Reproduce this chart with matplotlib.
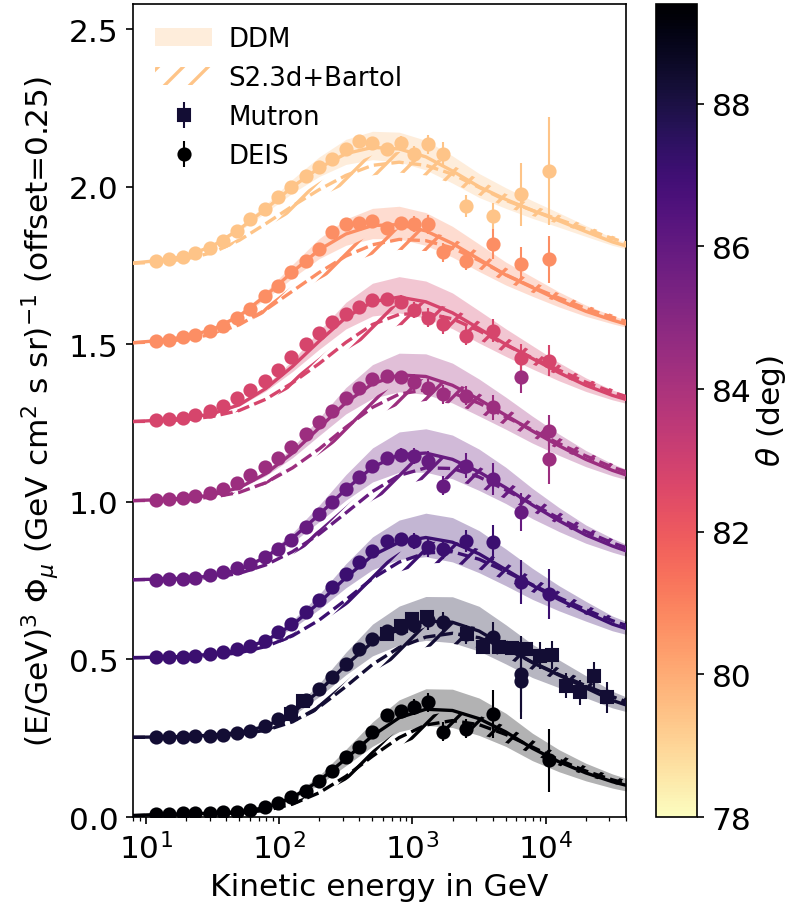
import numpy as np
import matplotlib.pyplot as plt
from matplotlib.patches import Patch
from matplotlib.colors import Normalize
from matplotlib.cm import ScalarMappable

plt.rcParams['hatch.linewidth'] = 1.6
plt.rcParams['font.size'] = 15

# zenith angles of the 8 curves (bottom -> top) and their offsets
angles = [89.4, 88.3, 87.1, 85.9, 84.4, 82.8, 80.7, 79.4]
offsets = [0.0, 0.25, 0.5, 0.75, 1.0, 1.25, 1.5, 1.75]

# model grid, log10(E/GeV)
model_logE = [0.9, 1.1, 1.3, 1.5, 1.7, 1.9, 2.1, 2.3, 2.5, 2.7,
              2.9, 3.1, 3.3, 3.5, 3.7, 3.9, 4.1, 4.3, 4.5, 4.7]

# DDM central prediction (without offset)
ddm_mid = [
    [0.005, 0.008, 0.010, 0.012, 0.016, 0.030, 0.062, 0.115, 0.185, 0.258, 0.315, 0.342, 0.338, 0.312, 0.270, 0.218, 0.175, 0.140, 0.112, 0.090],
    [0.003, 0.004, 0.006, 0.010, 0.018, 0.038, 0.080, 0.150, 0.232, 0.305, 0.350, 0.372, 0.368, 0.340, 0.290, 0.240, 0.200, 0.160, 0.120, 0.092],
    [0.006, 0.007, 0.010, 0.017, 0.030, 0.060, 0.110, 0.180, 0.260, 0.330, 0.372, 0.387, 0.372, 0.335, 0.285, 0.235, 0.190, 0.150, 0.112, 0.085],
    [0.003, 0.005, 0.008, 0.015, 0.035, 0.075, 0.135, 0.210, 0.290, 0.360, 0.400, 0.405, 0.385, 0.345, 0.295, 0.240, 0.190, 0.145, 0.110, 0.080],
    [0.004, 0.007, 0.012, 0.022, 0.045, 0.090, 0.155, 0.235, 0.315, 0.375, 0.403, 0.398, 0.370, 0.325, 0.275, 0.225, 0.178, 0.135, 0.100, 0.072],
    [0.005, 0.009, 0.016, 0.030, 0.058, 0.110, 0.180, 0.260, 0.335, 0.385, 0.400, 0.385, 0.350, 0.300, 0.250, 0.205, 0.160, 0.120, 0.088, 0.063],
    [0.005, 0.012, 0.024, 0.047, 0.090, 0.155, 0.230, 0.300, 0.350, 0.377, 0.380, 0.360, 0.320, 0.270, 0.220, 0.180, 0.140, 0.105, 0.077, 0.052],
    [0.008, 0.016, 0.030, 0.062, 0.115, 0.180, 0.250, 0.310, 0.355, 0.375, 0.370, 0.345, 0.300, 0.250, 0.210, 0.175, 0.142, 0.108, 0.075, 0.050],
]
# relative DDM uncertainty (up / down) and per-curve scale of it
ddm_rel_up = [0.03, 0.04, 0.05, 0.06, 0.08, 0.10, 0.12, 0.14, 0.16, 0.17,
              0.18, 0.19, 0.20, 0.21, 0.22, 0.22, 0.22, 0.22, 0.22, 0.22]
ddm_rel_dn = [0.03, 0.04, 0.05, 0.06, 0.07, 0.08, 0.10, 0.11, 0.12, 0.13,
              0.14, 0.15, 0.16, 0.17, 0.17, 0.18, 0.18, 0.18, 0.18, 0.18]
ddm_unc_scale = [1.0, 1.1, 1.05, 1.0, 0.95, 0.9, 0.85, 0.8]

# Sibyll 2.3d + Bartol central prediction
sib_mid = [
    [0.004, 0.006, 0.008, 0.010, 0.013, 0.021, 0.041, 0.077, 0.129, 0.193, 0.252, 0.292, 0.306, 0.293, 0.262, 0.222, 0.181, 0.146, 0.118, 0.096],
    [0.003, 0.003, 0.005, 0.007, 0.013, 0.025, 0.052, 0.099, 0.164, 0.234, 0.288, 0.321, 0.333, 0.319, 0.284, 0.241, 0.202, 0.167, 0.132, 0.101],
    [0.005, 0.006, 0.008, 0.012, 0.021, 0.041, 0.075, 0.125, 0.189, 0.257, 0.309, 0.338, 0.342, 0.318, 0.279, 0.237, 0.196, 0.158, 0.123, 0.094],
    [0.003, 0.004, 0.006, 0.010, 0.023, 0.050, 0.092, 0.148, 0.215, 0.283, 0.334, 0.358, 0.356, 0.329, 0.288, 0.243, 0.198, 0.156, 0.120, 0.090],
    [0.004, 0.005, 0.009, 0.015, 0.030, 0.061, 0.108, 0.168, 0.237, 0.300, 0.342, 0.356, 0.346, 0.313, 0.270, 0.228, 0.185, 0.146, 0.110, 0.082],
    [0.005, 0.006, 0.011, 0.021, 0.040, 0.076, 0.128, 0.189, 0.256, 0.313, 0.345, 0.349, 0.331, 0.293, 0.248, 0.207, 0.168, 0.130, 0.098, 0.072],
    [0.005, 0.008, 0.016, 0.032, 0.062, 0.110, 0.169, 0.228, 0.280, 0.316, 0.333, 0.329, 0.306, 0.266, 0.221, 0.182, 0.147, 0.114, 0.086, 0.061],
    [0.007, 0.011, 0.021, 0.041, 0.080, 0.133, 0.189, 0.241, 0.286, 0.318, 0.328, 0.318, 0.290, 0.248, 0.207, 0.175, 0.146, 0.116, 0.086, 0.059],
]
sib_rel_half = [0.06, 0.06, 0.06, 0.07, 0.08, 0.09, 0.10, 0.10, 0.10, 0.10,
                0.10, 0.10, 0.10, 0.10, 0.10, 0.10, 0.10, 0.10, 0.10, 0.10]

# DEIS data, low energy part (same bins for all curves)
deis_E = [12, 15, 19, 23.5, 30, 38, 48, 60, 78, 98, 123, 158, 200, 250,
          316, 400, 500, 646, 813, 1023, 1318]
deis_err = [0.002, 0.002, 0.002, 0.002, 0.002, 0.002, 0.002, 0.002, 0.003, 0.004, 0.005,
            0.006, 0.007, 0.008, 0.010, 0.012, 0.014, 0.017, 0.020, 0.025, 0.030]
deis_y = [
    [0.010, 0.010, 0.012, 0.012, 0.013, 0.015, 0.017, 0.022, 0.031, 0.044, 0.062, 0.083, 0.115, 0.147, 0.191, 0.221, 0.269, 0.324, 0.337, 0.348, 0.364],
    [0.004, 0.004, 0.005, 0.006, 0.008, 0.011, 0.016, 0.024, 0.038, 0.060, 0.085, 0.120, 0.156, 0.193, 0.235, 0.283, 0.315, 0.340, 0.350, 0.360, 0.375],
    [0.007, 0.007, 0.008, 0.012, 0.017, 0.023, 0.033, 0.043, 0.059, 0.086, 0.112, 0.150, 0.190, 0.230, 0.270, 0.310, 0.345, 0.377, 0.382, 0.377, 0.356],
    [0.003, 0.005, 0.005, 0.010, 0.018, 0.027, 0.039, 0.053, 0.075, 0.100, 0.130, 0.170, 0.210, 0.250, 0.290, 0.330, 0.365, 0.390, 0.400, 0.395, 0.380],
    [0.006, 0.008, 0.012, 0.018, 0.028, 0.042, 0.060, 0.085, 0.110, 0.140, 0.175, 0.215, 0.255, 0.290, 0.330, 0.360, 0.390, 0.400, 0.395, 0.380, 0.360],
    [0.009, 0.012, 0.017, 0.025, 0.037, 0.055, 0.080, 0.105, 0.135, 0.170, 0.210, 0.250, 0.285, 0.320, 0.345, 0.370, 0.390, 0.395, 0.385, 0.360, 0.335],
    [0.011, 0.013, 0.022, 0.029, 0.043, 0.059, 0.085, 0.112, 0.154, 0.186, 0.228, 0.265, 0.302, 0.355, 0.381, 0.386, 0.391, 0.370, 0.384, 0.381, 0.381],
    [0.015, 0.020, 0.028, 0.039, 0.057, 0.078, 0.110, 0.147, 0.179, 0.216, 0.248, 0.285, 0.312, 0.338, 0.369, 0.396, 0.390, 0.370, 0.390, 0.353, 0.385],
]
# DEIS data, high energy part (per curve)
deis_hi_E = [
    [1700, 2500, 4000, 10500],
    [1700, 2500, 4000, 6500, 6500],
    [1700, 2500, 4000, 6500, 10500],
    [1700, 2500, 4000, 6500],
    [1700, 2500, 4000, 6500, 10500, 10500],
    [1700, 2500, 4000, 6500, 10500],
    [1700, 2500, 4000, 6500, 10500],
    [1700, 2500, 4000, 6500, 10500],
]
deis_hi_y = [
    [0.270, 0.280, 0.327, 0.180],
    [0.370, 0.330, 0.320, 0.204, 0.182],
    [0.350, 0.377, 0.372, 0.245, 0.207],
    [0.301, 0.365, 0.322, 0.217],
    [0.342, 0.337, 0.300, 0.395, 0.226, 0.136],
    [0.314, 0.277, 0.293, 0.208, 0.198],
    [0.292, 0.265, 0.318, 0.254, 0.270],
    [0.353, 0.189, 0.157, 0.227, 0.300],
]
deis_hi_err = [
    [0.030, 0.030, 0.075, 0.100],
    [0.030, 0.030, 0.050, 0.120, 0.120],
    [0.030, 0.035, 0.055, 0.070, 0.080],
    [0.030, 0.040, 0.050, 0.060],
    [0.030, 0.030, 0.040, 0.050, 0.050, 0.080],
    [0.030, 0.030, 0.037, 0.042, 0.050],
    [0.030, 0.030, 0.048, 0.055, 0.075],
    [0.040, 0.035, 0.040, 0.100, 0.170],
]

# Mutron data (only at the second angle)
mutron_E = [123, 151, 646, 813, 1000, 1290, 2570, 3390, 4470, 5620, 7080,
            9120, 11200, 14100, 18200, 22900, 28800]
mutron_y = [0.077, 0.119, 0.330, 0.357, 0.378, 0.384, 0.330, 0.290, 0.290,
            0.285, 0.283, 0.262, 0.264, 0.167, 0.146, 0.198, 0.130]
mutron_err = [0.005, 0.006, 0.010, 0.010, 0.012, 0.012, 0.015, 0.020, 0.020,
              0.020, 0.020, 0.043, 0.043, 0.040, 0.040, 0.045, 0.050]

cmap = plt.get_cmap('magma_r')
norm = Normalize(vmin=78, vmax=89.4)

fig = plt.figure(figsize=(789 / 150, 909 / 150), dpi=150)
ax = fig.add_axes([0.1686, 0.1001, 0.6248, 0.8944])
cax = fig.add_axes([0.8314, 0.1001, 0.052, 0.8944])

E = 10 ** np.array(model_logE)
up = np.array(ddm_rel_up)
dn = np.array(ddm_rel_dn)
sh = np.array(sib_rel_half)

for i, (th, off) in enumerate(zip(angles, offsets)):
    c = cmap(norm(th))
    m = np.array(ddm_mid[i])
    s = np.array(sib_mid[i])
    k = ddm_unc_scale[i]
    ax.fill_between(E, off + m * (1 - k * dn), off + m * (1 + k * up),
                    color=c, alpha=0.3, lw=0, zorder=1)
    ax.fill_between(E, off + s * (1 - sh), off + s * (1 + sh),
                    facecolor='none', edgecolor=c, hatch='//', lw=0, zorder=2)
    ax.plot(E, off + m, color=c, lw=1.6, zorder=3)
    ax.plot(E, off + s, color=c, lw=1.6, ls='--', zorder=3)

    ax.errorbar(deis_E, off + np.array(deis_y[i]), yerr=deis_err, fmt='o',
                color=c, ms=5.8, elinewidth=1.0, capsize=0, zorder=5)
    ax.errorbar(deis_hi_E[i], off + np.array(deis_hi_y[i]), yerr=deis_hi_err[i],
                fmt='o', color=c, ms=5.8, elinewidth=1.0, capsize=0, zorder=5)
    if i == 1:
        ax.errorbar(mutron_E, off + np.array(mutron_y), yerr=mutron_err,
                    fmt='s', color=c, ms=5.5, elinewidth=1.0, capsize=0,
                    zorder=4)
        mut_color = c

top_c = cmap(norm(angles[-1]))
h_ddm = Patch(facecolor=top_c, alpha=0.3, lw=0)
h_sib = Patch(facecolor='none', edgecolor=top_c, hatch='//', lw=0)
h_mut = ax.errorbar([np.nan], [np.nan], yerr=[np.nan], fmt='s', color=mut_color,
                    ms=5.5, elinewidth=1.0)
h_deis = ax.errorbar([np.nan], [np.nan], yerr=[np.nan], fmt='o', color='k',
                     ms=5.8, elinewidth=1.0)
ax.legend([h_ddm, h_sib, h_mut, h_deis], ['DDM', 'S2.3d+Bartol', 'Mutron', 'DEIS'],
          loc='upper left', frameon=False, fontsize=12.5, handlelength=2.2,
          handletextpad=0.6, borderaxespad=0.45)

ax.set_xscale('log')
ax.set_xlim(8, 4e4)
ax.set_ylim(0, 2.58)
ax.set_yticks([0, 0.5, 1.0, 1.5, 2.0, 2.5])
ax.tick_params(labelsize=15)
ax.set_xlabel('Kinetic energy in GeV', fontsize=15)
ax.set_ylabel(r'(E/GeV)$^3$ $\Phi_\mu$ (GeV cm$^2$ s sr)$^{-1}$ (offset=0.25)',
              fontsize=15)

cb = fig.colorbar(ScalarMappable(norm=norm, cmap=cmap), cax=cax)
cb.set_ticks([78, 80, 82, 84, 86, 88])
cb.ax.tick_params(labelsize=15)
cb.set_label(r'$\theta$ (deg)', fontsize=15, labelpad=1)

fig.savefig('out.png', dpi=150)
